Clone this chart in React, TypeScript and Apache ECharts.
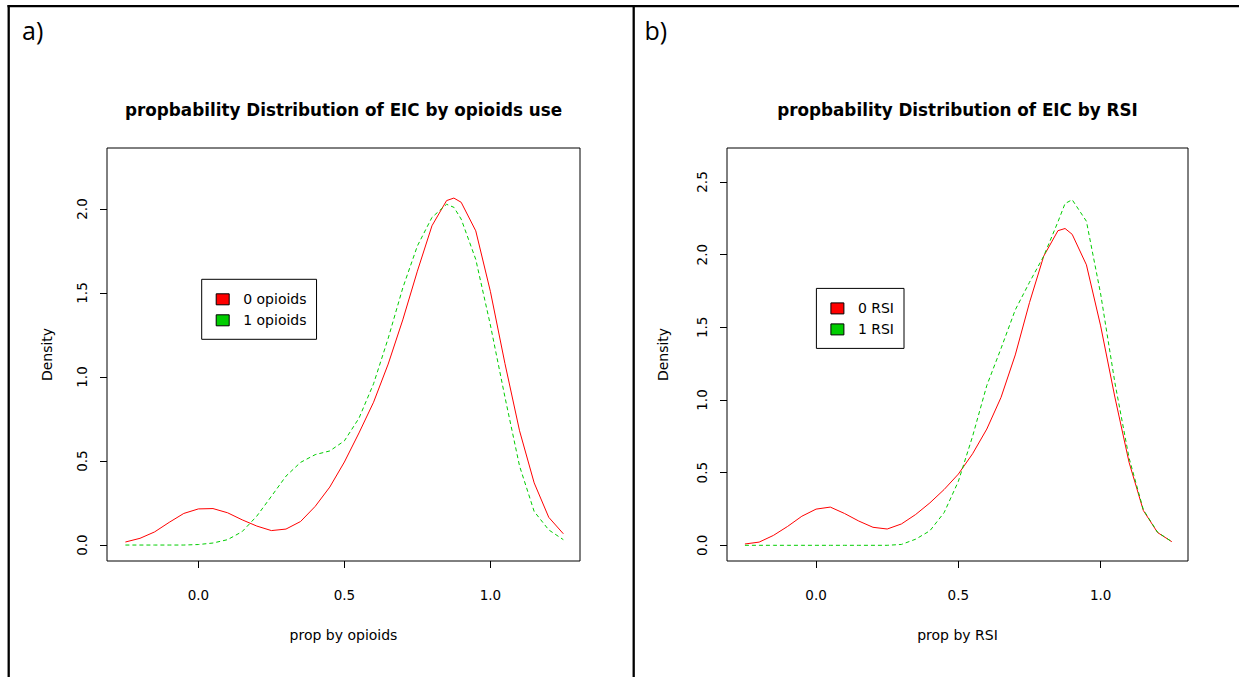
import React, { useEffect, useRef } from "react";
import * as echarts from "echarts";

// x positions at which the density curves were read
const xGrid = [
  -0.25, -0.2, -0.15, -0.1, -0.05, 0, 0.05, 0.1, 0.15, 0.2, 0.25, 0.3, 0.35, 0.4,
  0.45, 0.5, 0.55, 0.6, 0.65, 0.7, 0.75, 0.8, 0.85, 0.875, 0.9, 0.95, 1.0, 1.05,
  1.1, 1.15, 1.2, 1.25,
];

// panel a) density by opioids use
const opioids0 = [
  0.018, 0.04, 0.078, 0.135, 0.188, 0.215, 0.217, 0.192, 0.15, 0.113, 0.086, 0.095,
  0.14, 0.23, 0.345, 0.494, 0.667, 0.85, 1.077, 1.34, 1.63, 1.9, 2.05, 2.065, 2.04,
  1.87, 1.51, 1.08, 0.68, 0.37, 0.165, 0.067,
];
const opioids1 = [
  0, 0, 0, 0, 0, 0.003, 0.012, 0.032, 0.08, 0.172, 0.29, 0.41, 0.492, 0.538, 0.56,
  0.62, 0.755, 0.96, 1.23, 1.53, 1.78, 1.95, 2.028, 2.01, 1.94, 1.7, 1.31, 0.88,
  0.47, 0.2, 0.09, 0.032,
];

// panel b) density by RSI
const rsi0 = [
  0.009, 0.022, 0.068, 0.13, 0.2, 0.249, 0.263, 0.219, 0.167, 0.124, 0.112, 0.147,
  0.212, 0.292, 0.384, 0.49, 0.63, 0.8, 1.018, 1.31, 1.67, 1.99, 2.165, 2.18, 2.14,
  1.93, 1.51, 1.02, 0.57, 0.24, 0.088, 0.025,
];
const rsi1 = [
  0, 0, 0, 0, 0, 0, 0, 0, 0, 0, 0, 0.006, 0.042, 0.1, 0.225, 0.44, 0.75, 1.1, 1.355,
  1.62, 1.81, 1.99, 2.226, 2.352, 2.378, 2.23, 1.73, 1.12, 0.6, 0.245, 0.09, 0.025,
];

const xTicks = [0, 0.5, 1.0];
const yTicksA = [0, 0.5, 1.0, 1.5, 2.0];
const yTicksB = [0, 0.5, 1.0, 1.5, 2.0, 2.5];

const titleA = "propbability Distribution of EIC by opioids use";
const titleB = "propbability Distribution of EIC by RSI";
const xNameA = "prop by opioids";
const xNameB = "prop by RSI";
const yName = "Density";
const legendA = ["0 opioids", "1 opioids"];
const legendB = ["0 RSI", "1 RSI"];

const pairs = (ys: number[]) => xGrid.map((x, i) => [x, ys[i]]);

export default function App() {
  const ref = useRef<HTMLDivElement>(null);
  useEffect(() => {
    document.body.style.margin = "0";
    const chart = echarts.init(ref.current as HTMLDivElement, null, { renderer: "svg" });
    const FONT = "DejaVu Sans";
    const RED = "#FF0000";
    const GREEN = "#00CD00";

    const mkX = (idx: number, name: string) => ({
      type: "value",
      gridIndex: idx,
      min: -0.313,
      max: 1.307,
      name,
      nameLocation: "middle",
      nameGap: 67,
      nameTextStyle: { fontFamily: FONT, fontSize: 14, color: "#000" },
      axisLine: { show: false, onZero: false },
      axisTick: {
        show: true,
        length: 7,
        inside: false,
        customValues: xTicks,
        lineStyle: { color: "#000", width: 1 },
      },
      axisLabel: {
        customValues: xTicks,
        formatter: (v: number) => v.toFixed(1),
        margin: 27,
        fontFamily: FONT,
        fontSize: 13.5,
        color: "#000",
      },
      splitLine: { show: false },
    });

    const mkY = (idx: number, min: number, max: number, ticks: number[], gap: number) => ({
      type: "value",
      gridIndex: idx,
      min,
      max,
      name: yName,
      nameLocation: "middle",
      nameRotate: 90,
      nameGap: gap,
      nameTextStyle: { fontFamily: FONT, fontSize: 14, color: "#000" },
      axisLine: { show: false, onZero: false },
      axisTick: {
        show: true,
        length: 7,
        inside: false,
        customValues: ticks,
        lineStyle: { color: "#000", width: 1 },
      },
      axisLabel: {
        customValues: ticks,
        formatter: (v: number) => v.toFixed(1),
        rotate: 90,
        margin: 18,
        fontFamily: FONT,
        fontSize: 13.5,
        color: "#000",
      },
      splitLine: { show: false },
    });

    const mkLegend = (names: string[], left: number, top: number) => ({
      data: names,
      orient: "vertical",
      left,
      top,
      padding: [13, 10, 12, 14],
      itemGap: 7,
      itemWidth: 13,
      itemHeight: 11,
      icon: "rect",
      borderColor: "#000",
      borderWidth: 1,
      backgroundColor: "#fff",
      selectedMode: false,
      itemStyle: { borderColor: "#000", borderWidth: 1 },
      textStyle: { fontFamily: FONT, fontSize: 14, lineHeight: 14, color: "#000", padding: [0, 0, 0, 9] },
    });

    const mkSeries = (name: string, idx: number, ys: number[], color: string, dashed: boolean) => ({
      type: "line",
      name,
      xAxisIndex: idx,
      yAxisIndex: idx,
      data: pairs(ys),
      symbol: "none",
      showSymbol: false,
      smooth: false,
      color,
      itemStyle: { color },
      lineStyle: { color, width: 1, type: dashed ? [4, 3] : "solid" },
    });

    const frame = { stroke: "#000", lineWidth: 2.3 };

    chart.setOption({
      animation: false,
      title: [
        {
          text: titleA,
          left: 343.5,
          top: 101,
          textAlign: "center",
          padding: 0,
          textStyle: { fontFamily: FONT, fontSize: 16.8, fontWeight: "bold", color: "#000" },
        },
        {
          text: titleB,
          left: 957.5,
          top: 101,
          textAlign: "center",
          padding: 0,
          textStyle: { fontFamily: FONT, fontSize: 16.8, fontWeight: "bold", color: "#000" },
        },
      ],
      grid: [
        { left: 107, top: 148, width: 473, height: 413, show: true, borderColor: "#000", borderWidth: 1, backgroundColor: "transparent" },
        { left: 727, top: 148, width: 461, height: 413, show: true, borderColor: "#000", borderWidth: 1, backgroundColor: "transparent" },
      ],
      xAxis: [mkX(0, xNameA), mkX(1, xNameB)],
      yAxis: [mkY(0, -0.095, 2.363, yTicksA, 53), mkY(1, -0.108, 2.734, yTicksB, 57)],
      legend: [mkLegend(legendA, 201.7, 279.3), mkLegend(legendB, 816.4, 288.4)],
      series: [
        mkSeries(legendA[0], 0, opioids0, RED, false),
        mkSeries(legendA[1], 0, opioids1, GREEN, true),
        mkSeries(legendB[0], 1, rsi0, RED, false),
        mkSeries(legendB[1], 1, rsi1, GREEN, true),
      ],
      graphic: [
        { type: "line", shape: { x1: 7.5, y1: 6.2, x2: 1239, y2: 6.2 }, style: frame },
        { type: "line", shape: { x1: 8.7, y1: 5, x2: 8.7, y2: 677 }, style: frame },
        { type: "line", shape: { x1: 633.7, y1: 5, x2: 633.7, y2: 677 }, style: frame },
        {
          type: "text",
          x: 22,
          y: 30,
          style: { text: "a)", fontFamily: "Open Sans", fontSize: 25, fill: "#000", verticalAlign: "middle" },
        },
        {
          type: "text",
          x: 644.5,
          y: 30,
          style: { text: "b)", fontFamily: "Open Sans", fontSize: 25, fill: "#000", verticalAlign: "middle" },
        },
      ],
    });
    return () => chart.dispose();
  }, []);
  return <div ref={ref} style={{ width: 1239, height: 677 }} />;
}
